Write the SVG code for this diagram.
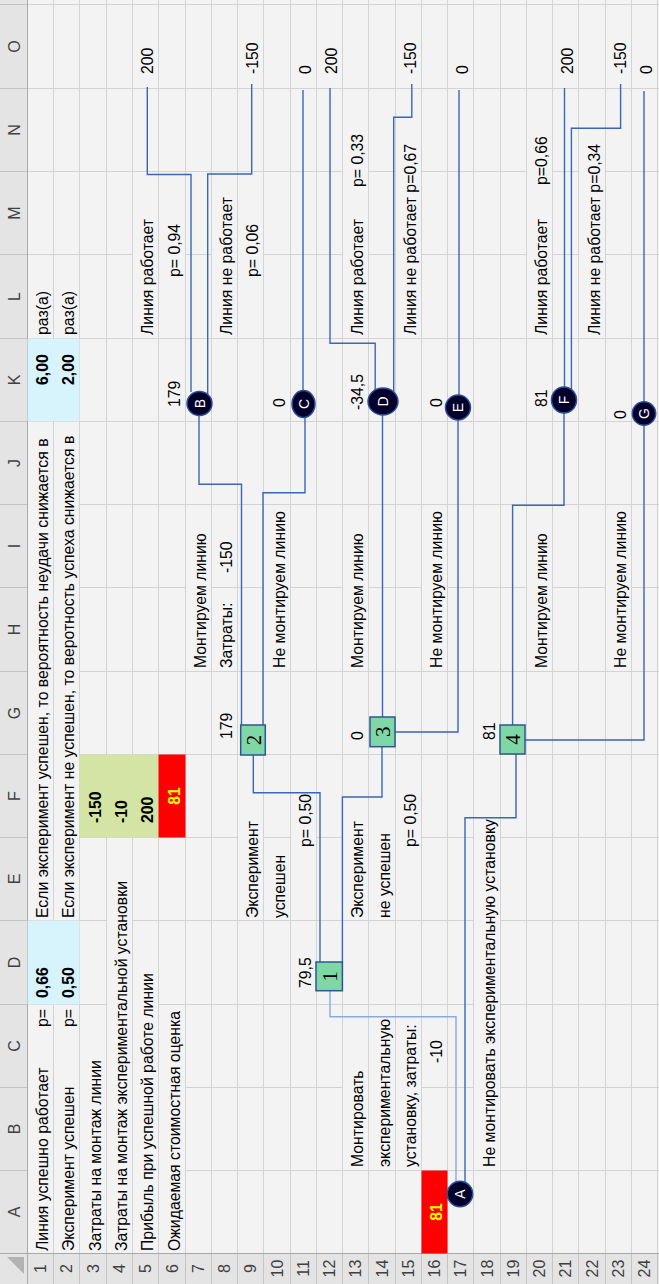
<svg xmlns="http://www.w3.org/2000/svg" width="659" height="1284" viewBox="0 0 659 1284">
<style>
.bg{fill:#f3f3f3}
.hb{fill:#e4e4e4}
.g{stroke:#d3d3d3;stroke-width:1;fill:none}
.hs{stroke:#c4c4c4;stroke-width:1;fill:none}
.hbd{stroke:#a9a9a9;stroke-width:1;fill:none}
.cv{fill:#f3f3f3}
.t{font-family:"Liberation Sans",Arial,sans-serif;font-size:15.8px;fill:#000}
.b{font-weight:bold}
.y{fill:#ffff00;text-anchor:middle}
.h{font-family:"Liberation Sans",Arial,sans-serif;font-size:16px;fill:#404040;text-anchor:middle}
.conn{fill:none;stroke:#3b66b6;stroke-width:1.4}
.lt{stroke:#86abdf}
.cn{fill:#00002a;stroke:#2d4f9a;stroke-width:1.5}
.cl{font-family:"Liberation Sans",Arial,sans-serif;font-size:14px;fill:#fff;text-anchor:middle}
.sq{fill:#7fd7a6;stroke:#2f5597;stroke-width:1.5}
.sl{font-family:"Liberation Serif","Times New Roman",serif;font-size:21px;fill:#000;text-anchor:middle}
</style>
<g id="sheet" transform="matrix(0,-1,1,0,0,1284)">
<rect class="bg" x="0" y="0" width="1284" height="659"/>
<rect class="hb" x="0" y="0" width="1284" height="27.5"/>
<rect class="hb" x="0" y="0" width="30.5" height="659"/>
<path class="g" d="M113.5 27.5V659M196.5 27.5V659M279.5 27.5V659M363.5 27.5V659M446.5 27.5V659M529.5 27.5V659M612.5 27.5V659M696.5 27.5V659M779.5 27.5V659M862.5 27.5V659M945.5 27.5V659M1029.5 27.5V659M1112.5 27.5V659M1195.5 27.5V659M1279.5 27.5V659"/>
<path class="g" d="M30.5 53.5H1284M30.5 79.5H1284M30.5 106.5H1284M30.5 132.5H1284M30.5 158.5H1284M30.5 185.5H1284M30.5 211.5H1284M30.5 237.5H1284M30.5 263.5H1284M30.5 290.5H1284M30.5 316.5H1284M30.5 342.5H1284M30.5 368.5H1284M30.5 395.5H1284M30.5 421.5H1284M30.5 447.5H1284M30.5 473.5H1284M30.5 500.5H1284M30.5 526.5H1284M30.5 552.5H1284M30.5 578.5H1284M30.5 605.5H1284M30.5 631.5H1284M30.5 657.5H1284"/>
<path class="hs" d="M113.5 0V27.5M196.5 0V27.5M279.5 0V27.5M363.5 0V27.5M446.5 0V27.5M529.5 0V27.5M612.5 0V27.5M696.5 0V27.5M779.5 0V27.5M862.5 0V27.5M945.5 0V27.5M1029.5 0V27.5M1112.5 0V27.5M1195.5 0V27.5M1279.5 0V27.5"/>
<path class="hs" d="M0 53.5H30.5M0 79.5H30.5M0 106.5H30.5M0 132.5H30.5M0 158.5H30.5M0 185.5H30.5M0 211.5H30.5M0 237.5H30.5M0 263.5H30.5M0 290.5H30.5M0 316.5H30.5M0 342.5H30.5M0 368.5H30.5M0 395.5H30.5M0 421.5H30.5M0 447.5H30.5M0 473.5H30.5M0 500.5H30.5M0 526.5H30.5M0 552.5H30.5M0 578.5H30.5M0 605.5H30.5M0 631.5H30.5M0 657.5H30.5"/>
<path class="hbd" d="M0 27.5H1284M30.5 0V659"/>
<polygon points="27,7 27,24 10,24" fill="#b3b3b3"/>
<g id="headers">
<text class="h" x="72" y="19.5">A</text><text class="h" x="155" y="19.5">B</text><text class="h" x="238" y="19.5">C</text><text class="h" x="321.5" y="19.5">D</text><text class="h" x="405" y="19.5">E</text><text class="h" x="488" y="19.5">F</text><text class="h" x="571" y="19.5">G</text><text class="h" x="654.5" y="19.5">H</text><text class="h" x="738" y="19.5">I</text><text class="h" x="821" y="19.5">J</text><text class="h" x="904" y="19.5">K</text><text class="h" x="987.5" y="19.5">L</text><text class="h" x="1071" y="19.5">M</text><text class="h" x="1154" y="19.5">N</text><text class="h" x="1237.5" y="19.5">O</text>
<text class="h" x="15.5" y="46">1</text><text class="h" x="15.5" y="72">2</text><text class="h" x="15.5" y="98.5">3</text><text class="h" x="15.5" y="125">4</text><text class="h" x="15.5" y="151">5</text><text class="h" x="15.5" y="177.5">6</text><text class="h" x="15.5" y="204">7</text><text class="h" x="15.5" y="230">8</text><text class="h" x="15.5" y="256">9</text><text class="h" x="15.5" y="282.5">10</text><text class="h" x="15.5" y="309">11</text><text class="h" x="15.5" y="335">12</text><text class="h" x="15.5" y="361">13</text><text class="h" x="15.5" y="387.5">14</text><text class="h" x="15.5" y="414">15</text><text class="h" x="15.5" y="440">16</text><text class="h" x="15.5" y="466">17</text><text class="h" x="15.5" y="492.5">18</text><text class="h" x="15.5" y="519">19</text><text class="h" x="15.5" y="545">20</text><text class="h" x="15.5" y="571">21</text><text class="h" x="15.5" y="597.5">22</text><text class="h" x="15.5" y="624">23</text><text class="h" x="15.5" y="650">24</text>
</g>
<g id="fills">
<rect x="279.5" y="27.5" width="84" height="52" fill="#d7f3fc"/>
<rect x="862.5" y="27.5" width="83" height="52" fill="#d7f3fc"/>
<rect x="446.5" y="79.5" width="83" height="79" fill="#d3e4a5"/>
<rect x="446.5" y="158.5" width="83" height="27" fill="#ff0000"/>
<rect x="30.5" y="421.5" width="83" height="26" fill="#ff0000"/>
</g>
<g id="overflow">
<rect class="cv" x="32" y="28" width="188" height="25"/>
<rect class="cv" x="364" y="28" width="496" height="25"/>
<rect class="cv" x="32" y="54" width="168" height="25"/>
<rect class="cv" x="364" y="54" width="496" height="25"/>
<rect class="cv" x="32" y="80" width="196" height="26"/>
<rect class="cv" x="32" y="107" width="375" height="25"/>
<rect class="cv" x="32" y="133" width="283" height="25"/>
<rect class="cv" x="947" y="133" width="132" height="25"/>
<rect class="cv" x="32" y="159" width="245" height="26"/>
<rect class="cv" x="1005" y="159" width="58" height="26"/>
<rect class="cv" x="614" y="186" width="140" height="25"/>
<rect class="cv" x="947" y="212" width="144" height="25"/>
<rect class="cv" x="364" y="238" width="100" height="25"/>
<rect class="cv" x="1005" y="238" width="58" height="25"/>
<rect class="cv" x="614" y="264" width="165" height="26"/>
<rect class="cv" x="435" y="291" width="58" height="25"/>
<rect class="cv" x="115" y="343" width="102" height="25"/>
<rect class="cv" x="364" y="343" width="100" height="25"/>
<rect class="cv" x="614" y="343" width="140" height="25"/>
<rect class="cv" x="947" y="343" width="132" height="25"/>
<rect class="cv" x="1095" y="343" width="56" height="25"/>
<rect class="cv" x="115" y="369" width="152" height="26"/>
<rect class="cv" x="364" y="369" width="90" height="26"/>
<rect class="cv" x="115" y="396" width="150" height="25"/>
<rect class="cv" x="435" y="396" width="58" height="25"/>
<rect class="cv" x="947" y="396" width="197" height="25"/>
<rect class="cv" x="614" y="422" width="165" height="25"/>
<rect class="cv" x="115" y="474" width="356" height="26"/>
<rect class="cv" x="614" y="527" width="140" height="25"/>
<rect class="cv" x="947" y="527" width="132" height="25"/>
<rect class="cv" x="1097" y="527" width="54" height="25"/>
<rect class="cv" x="947" y="579" width="197" height="26"/>
<rect class="cv" x="614" y="606" width="165" height="25"/>
</g>
<g id="texts">
<text class="t" x="33" y="47.5">Линия успешно работает</text>
<text class="t" x="257" y="47.5">p=</text>
<text class="t b" x="286" y="47.5">0,66</text>
<text class="t" x="366" y="47.5">Если эксперимент успешен, то вероятность неудачи снижается в</text>
<text class="t b" x="899" y="47.5">6,00</text>
<text class="t" x="949" y="47.5">раз(а)</text>
<text class="t" x="33" y="73.5">Эксперимент успешен</text>
<text class="t" x="257" y="73.5">p=</text>
<text class="t b" x="286" y="73.5">0,50</text>
<text class="t" x="366" y="73.5">Если эксперимент не успешен, то веротность успеха снижается в</text>
<text class="t b" x="899" y="73.5">2,00</text>
<text class="t" x="949" y="73.5">раз(а)</text>
<text class="t" x="33" y="100.5">Затраты на монтаж линии</text>
<text class="t b" x="461" y="100.5">-150</text>
<text class="t" x="33" y="126.5">Затраты на монтаж экспериментальной установки</text>
<text class="t b" x="461" y="126.5">-10</text>
<text class="t" x="33" y="152.5">Прибыль при успешной работе линии</text>
<text class="t b" x="461" y="152.5">200</text>
<text class="t" x="949" y="152.5">Линия работает</text>
<text class="t" x="1210" y="152.5">200</text>
<text class="t" x="33" y="179.5">Ожидаемая стоимостная оценка</text>
<text class="t b y" x="488" y="179.5">81</text>
<text class="t" x="877" y="179.5">179</text>
<text class="t" x="1007" y="179.5">p= 0,94</text>
<text class="t" x="616" y="205.5">Монтируем линию</text>
<text class="t" x="545" y="231.5">179</text>
<text class="t" x="616" y="231.5">Затраты:</text>
<text class="t" x="711" y="231.5">-150</text>
<text class="t" x="949" y="231.5">Линия не работает</text>
<text class="t" x="366" y="257.5">Эксперимент</text>
<text class="t" x="1007" y="257.5">p= 0,06</text>
<text class="t" x="1210" y="257.5">-150</text>
<text class="t" x="366" y="284.5">успешен</text>
<text class="t" x="616" y="284.5">Не монтируем линию</text>
<text class="t" x="877" y="284.5">0</text>
<text class="t" x="296" y="310.5">79,5</text>
<text class="t" x="437" y="310.5">p= 0,50</text>
<text class="t" x="1210" y="310.5">0</text>
<text class="t" x="1210" y="336.5">200</text>
<text class="t" x="117" y="362.5">Монтировать</text>
<text class="t" x="366" y="362.5">Эксперимент</text>
<text class="t" x="544" y="362.5">0</text>
<text class="t" x="616" y="362.5">Монтируем линию</text>
<text class="t" x="874" y="362.5">-34,5</text>
<text class="t" x="949" y="362.5">Линия работает</text>
<text class="t" x="1097" y="362.5">p= 0,33</text>
<text class="t" x="117" y="389.5">экспериментальную</text>
<text class="t" x="366" y="389.5">не успешен</text>
<text class="t" x="117" y="415.5">установку, затраты:</text>
<text class="t" x="437" y="415.5">p= 0,50</text>
<text class="t" x="949" y="415.5">Линия не работает p=0,67</text>
<text class="t" x="1210" y="415.5">-150</text>
<text class="t b y" x="72" y="441.5">81</text>
<text class="t" x="221" y="441.5">-10</text>
<text class="t" x="616" y="441.5">Не монтируем линию</text>
<text class="t" x="877" y="441.5">0</text>
<text class="t" x="1210" y="467.5">0</text>
<text class="t" x="117" y="494.5">Не монтировать экспериментальную установку</text>
<text class="t" x="544" y="494.5">81</text>
<text class="t" x="616" y="546.5">Монтируем линию</text>
<text class="t" x="877" y="546.5">81</text>
<text class="t" x="949" y="546.5">Линия работает</text>
<text class="t" x="1099" y="546.5">p=0,66</text>
<text class="t" x="1210" y="572.5">200</text>
<text class="t" x="949" y="599.5">Линия не работает p=0,34</text>
<text class="t" x="616" y="625.5">Не монтируем линию</text>
<text class="t" x="865" y="625.5">0</text>
<text class="t" x="1210" y="625.5">-150</text>
<text class="t" x="1210" y="651.5">0</text>
</g>
<g id="connectors">
<path class="conn lt" d="M293.3 330H267.3V456H102"/>
<path class="conn" d="M530 516H466.3V465H102"/>
<path class="conn" d="M529 253.3H491.3V320H322"/>
<path class="conn" d="M537.3 382H487V342.4H322"/>
<path class="conn" d="M868.5 199H799.7V241.5H559"/>
<path class="conn" d="M866.5 305H791.3V263H559"/>
<path class="conn" d="M869 382.5H567"/>
<path class="conn" d="M864 458H552V395"/>
<path class="conn" d="M871 564H778.7V512.6H559"/>
<path class="conn" d="M859 644H544V525"/>
<path class="conn" d="M1197 147.3H1109.5V191H892"/>
<path class="conn" d="M1200 251.7H1110V207.7H890"/>
<path class="conn" d="M1194 303H892"/>
<path class="conn" d="M1196 330H940.7V375.2H892"/>
<path class="conn" d="M1200 411.8H1166.7V393.7H892"/>
<path class="conn" d="M1194 459H888"/>
<path class="conn" d="M1196 564.5H896"/>
<path class="conn" d="M1200 620.6H1155.7V571.4H894"/>
<path class="conn" d="M1193 644H882"/>
</g>
<g id="node-1"><rect class="sq" x="293.3" y="316" width="28.7" height="26.4"/><text class="sl" x="307.6" y="336.7">1</text></g>
<g id="node-2"><rect class="sq" x="529" y="240.7" width="30" height="24.6"/><text class="sl" x="544" y="260.5">2</text></g>
<g id="node-3"><rect class="sq" x="537.3" y="370" width="29.7" height="25"/><text class="sl" x="552.2" y="390">3</text></g>
<g id="node-4"><rect class="sq" x="530" y="500" width="29" height="25"/><text class="sl" x="544.5" y="520">4</text></g>
<g id="node-A"><ellipse class="cn" cx="90" cy="460" rx="12.7" ry="12.7"/><text class="cl" x="90" y="465">A</text></g>
<g id="node-B"><ellipse class="cn" cx="880.5" cy="199.5" rx="12" ry="12.5"/><text class="cl" x="880.5" y="204.5">B</text></g>
<g id="node-C"><ellipse class="cn" cx="880" cy="303.5" rx="13.5" ry="11.5"/><text class="cl" x="880" y="308.5">C</text></g>
<g id="node-D"><ellipse class="cn" cx="882.5" cy="383" rx="13.5" ry="15"/><text class="cl" x="882.5" y="388">D</text></g>
<g id="node-E"><ellipse class="cn" cx="876.5" cy="458" rx="12.5" ry="12.5"/><text class="cl" x="876.5" y="463">E</text></g>
<g id="node-F"><ellipse class="cn" cx="884" cy="564" rx="13" ry="12.5"/><text class="cl" x="884" y="569">F</text></g>
<g id="node-G"><ellipse class="cn" cx="870.5" cy="644" rx="11.7" ry="11.7"/><text class="cl" x="870.5" y="649">G</text></g>
</g>
</svg>
